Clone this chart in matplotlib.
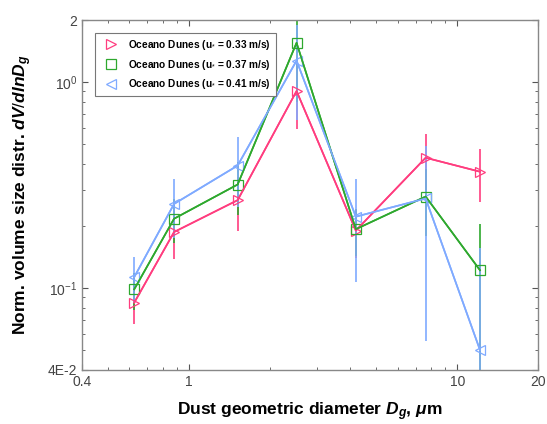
import matplotlib
matplotlib.use("Agg")
import matplotlib.pyplot as plt
from matplotlib.ticker import FixedLocator, NullFormatter, LogLocator

diam = [0.626, 0.881, 1.52, 2.52, 4.19, 7.63, 12.16]

red_y = [0.0849, 0.187, 0.267, 0.904, 0.190, 0.429, 0.367]
red_err = [0.018, 0.049, 0.077, 0.315, 0.05, 0.130, 0.105]

green_y = [0.0986, 0.217, 0.318, 1.55, 0.193, 0.278, 0.122]
green_err = [0.02, 0.052, 0.092, 0.75, 0.05, 0.10, 0.083]

blue_y = [0.113, 0.256, 0.393, 1.27, 0.222, 0.272, 0.050]
blue_err = [0.0285, 0.081, 0.146, 0.616, 0.115, 0.217, 0.106]

labels = ["Oceano Dunes (u$_{*}$ = 0.33 m/s)",
          "Oceano Dunes (u$_{*}$ = 0.37 m/s)",
          "Oceano Dunes (u$_{*}$ = 0.41 m/s)"]

xticks = [0.4, 1, 10, 20]
xticklabels = ["0.4", "1", "10", "20"]
yticks = [0.04, 0.1, 1, 2]
yticklabels = ["4E-2", "$10^{-1}$", "$10^{0}$", "2"]

plt.rcParams['font.family'] = ['Liberation Sans', 'DejaVu Sans']
plt.rcParams['mathtext.fontset'] = 'custom'
plt.rcParams['mathtext.rm'] = 'Liberation Sans'
plt.rcParams['mathtext.it'] = 'Liberation Sans:italic:bold'
plt.rcParams['mathtext.bf'] = 'Liberation Sans:bold'

fig = plt.figure(figsize=(5.47, 4.24), dpi=100)
ax = fig.add_axes([0.150, 0.1274, 0.8335, 0.8254])

colors = ['#FF3D7F', '#2EA82E', '#7FAAFF']
markers = ['>', 's', '<']
series = [(red_y, red_err), (green_y, green_err), (blue_y, blue_err)]

for (y, e), c, m in zip(series, colors, markers):
    ax.errorbar(diam, y, yerr=e, color=c, linewidth=1.2, elinewidth=1.2,
                capsize=0)
for (y, e), c, m, lab in zip(series, colors, markers, labels):
    ax.plot(diam, y, color=c, linewidth=1.2, marker=m, markersize=7,
            markerfacecolor='none', markeredgecolor=c, markeredgewidth=0.9,
            label=lab)

ax.set_xscale('log')
ax.set_yscale('log')
ax.set_xlim(0.4, 20)
ax.set_ylim(0.04, 2)

ax.xaxis.set_major_locator(FixedLocator(xticks))
ax.set_xticklabels(xticklabels)
ax.xaxis.set_minor_locator(LogLocator(base=10, subs=range(2, 10)))
ax.xaxis.set_minor_formatter(NullFormatter())
ax.yaxis.set_major_locator(FixedLocator(yticks))
ax.set_yticklabels(yticklabels)
ax.yaxis.set_minor_locator(LogLocator(base=10, subs=range(2, 10)))
ax.yaxis.set_minor_formatter(NullFormatter())

ax.tick_params(which='both', direction='in', top=True, right=True,
               colors='#555555', labelcolor='#444444', labelsize=10)
ax.tick_params(which='major', length=4)
ax.tick_params(which='minor', length=2.5)
for s in ax.spines.values():
    s.set_color('#888888')
    s.set_linewidth(1.0)

ax.set_xlabel("Dust geometric diameter $D_g$, $\\mu$m",
              fontsize=12.5, fontweight='bold', labelpad=8)
ax.set_ylabel("Norm. volume size distr. $dV/dlnD_g$",
              fontsize=12.5, fontweight='bold', labelpad=10)

leg = ax.legend(loc='upper left', bbox_to_anchor=(0.028, 0.963),
                borderaxespad=0,
                prop={'size': 7.3, 'weight': 'bold'}, fancybox=False,
                edgecolor='#777777', framealpha=1, borderpad=0.5,
                labelspacing=0.55, handlelength=2.2, handletextpad=0.6)
for h in leg.get_lines():
    h.set_linestyle('none')
leg.get_frame().set_linewidth(0.8)

fig.savefig("out.png", dpi=100)
